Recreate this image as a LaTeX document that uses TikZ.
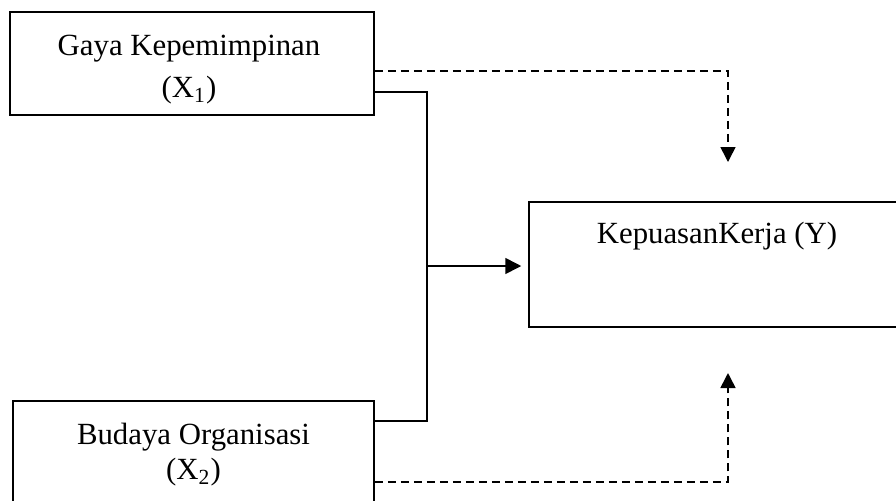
\documentclass[tikz,border=0pt]{standalone}
\usepackage{fontspec}
\setmainfont{Liberation Serif}
\usetikzlibrary{arrows.meta, positioning}

\begin{document}
\begin{tikzpicture}[
    x=0.5pt, y=-0.5pt,
    kotak/.style={rectangle, draw=black, line width=0.75pt, minimum width=#1, inner sep=0pt},
    kotak/.default={182pt},
    teks/.style={inner sep=0pt, align=center, font=\fontsize{15.4}{#1}\selectfont},
    teks/.default={21pt},
    panah/.style={-{Triangle[length=#1, width=#1]}, line width=0.8pt},
    panah/.default={8pt},
    garis/.style={line width=0.85pt},
    putus/.style={line width=0.75pt, dash pattern=on 4pt off 2.5pt}
]

% === BATAS GAMBAR ===
\useasboundingbox (0,0) rectangle (896,500);
\clip (0,0) rectangle (896,500);

% === VARIABEL BEBAS ===
\node[kotak, minimum height=51.5pt] (gaya) at (192,63.5) {};
\node[teks] (gayateks) at (189,70) {Gaya Kepemimpinan\\(X\textsubscript{1})};
\node[kotak=180.5pt, minimum height=52pt] (budaya) at (193.5,453) {};
\node[teks=17.5pt] (budayateks) at (193.5,455) {Budaya Organisasi\\(X\textsubscript{2})};

% === VARIABEL TERIKAT ===
\node[kotak=188pt, minimum height=62.5pt] (kepuasan) at (717,264.5) {};
\node[teks] (kepuasanteks) at (717,236) {KepuasanKerja (Y)};

% === TITIK BANTU ===
\coordinate (simpulatas) at (427,92);
\coordinate (simpulbawah) at (427,421);
\coordinate (cabang) at (427,266);
\coordinate (belokatas) at (728,71);
\coordinate (ujungatas) at (728,162);
\coordinate (belokbawah) at (728,482);
\coordinate (ujungbawah) at (728,373);

% === PANAH ===
% X1 dan X2 bersama -> Y
\draw[garis] (gaya.east |- simpulatas) -- (simpulatas) -- (simpulbawah) -- (budaya.east |- simpulbawah);
\draw[panah, shorten >=3.5pt] (cabang) -- (kepuasan.west |- cabang);

% X1 -> Y, X2 -> Y
\draw[putus, panah=7.5pt] (gaya.east |- belokatas) -- (belokatas) -- (ujungatas);
\draw[putus, panah=7.5pt] (budaya.east |- belokbawah) -- (belokbawah) -- (ujungbawah);

\end{tikzpicture}
\end{document}
